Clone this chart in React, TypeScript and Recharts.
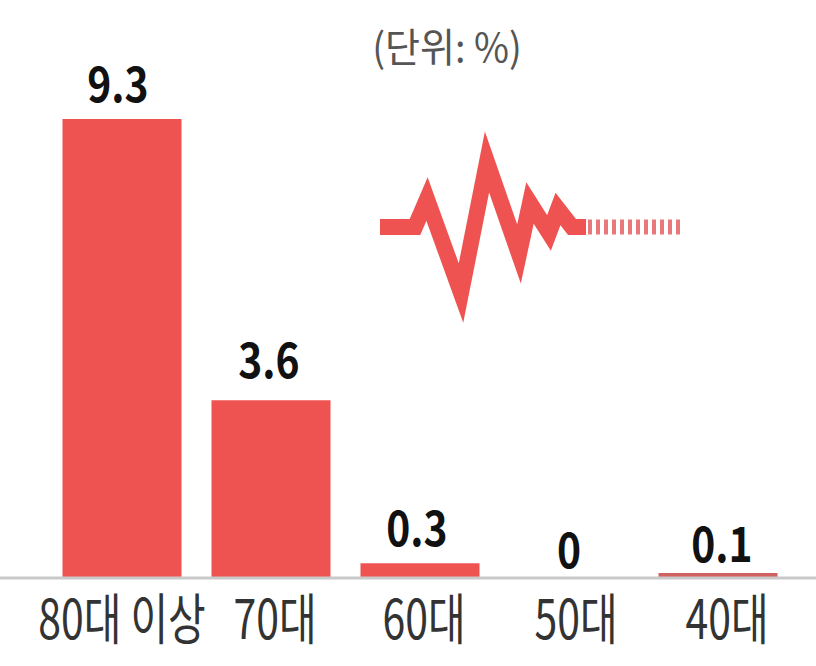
import { ComposedChart, Bar, Cell, Line, XAxis, YAxis, LabelList, LineChart } from "recharts";

const FONT = '"Noto Sans CJK KR", "Noto Sans", sans-serif';

const ageGroups = ["80대 이상", "70대", "60대", "50대", "40대"];
const rates = [9.3, 3.6, 0.3, 0, 0.1];
const rateLabels = ["9.3", "3.6", "0.3", "0", "0.1"];
const unitLabel = "(단위: %)";

// decorative seismograph trace
const waveX = [0, 35, 47, 81, 107, 139, 150, 169, 178, 192, 206];
const waveY = [0, 0, 28, -66, 65, -27, 24, -6, 18, 0, 0];
const tailX = [208, 300];
const tailY = [0, 0];

const chartData = ageGroups.map((group, i) => ({ group, rate: rates[i] }));
const waveData = [
  ...waveX.map((x, i) => ({ x, wave: waveY[i] })),
  ...tailX.map((x, i) => ({ x, tail: tailY[i] })),
];

const RED = "#ee5351";

// the printed labels do not sit exactly on the bar centres
const tickNudge = [0, 4, 4, 7, 9];
const labelNudge = [-4, -2, -3, 0, 4];
const labelGap = [17, 22, 17, 10, 11];

function AgeTick({ x, y, payload }: any) {
  return (
    <text
      transform={`translate(${x + tickNudge[payload.index]},${y + 53}) scale(0.89,1.18)`}
      textAnchor="middle"
      fontFamily={FONT}
      fontSize={46}
      fontWeight={400}
      fill="#333"
    >
      {payload.value}
    </text>
  );
}

function RateLabel({ x, y, index }: any) {
  return (
    <text
      transform={`translate(${x + labelNudge[index]},${y - labelGap[index]}) scale(0.85,1)`}
      textAnchor="middle"
      fontFamily={FONT}
      fontSize={48}
      fontWeight={700}
      fill="#111"
    >
      {rateLabels[index]}
    </text>
  );
}

export default function App() {
  return (
    <div style={{ position: "fixed", left: 0, top: 0, width: 816, height: 666, background: "#fff" }}>
      <ComposedChart
        width={816}
        height={666}
        data={chartData}
        margin={{ top: 84.5, right: 0, left: 0, bottom: 0 }}
      >
        <XAxis
          dataKey="group"
          height={88}
          padding={{ left: 47.5, right: 23.5 }}
          axisLine={{ stroke: "#c9c9c9", strokeWidth: 3 }}
          tickLine={false}
          tick={<AgeTick />}
          interval={0}
        />
        <YAxis hide domain={[0, 10]} />
        <Bar dataKey="rate" barSize={119} fill={RED} isAnimationActive={false}>
          {chartData.map((d) => (
            <Cell key={d.group} fill={d.rate === 0.1 ? "#d0625f" : RED} />
          ))}
        </Bar>
        {/* invisible line carries the labels: zero-height bars get dropped from a Bar's LabelList */}
        <Line dataKey="rate" stroke="none" dot={false} activeDot={false} isAnimationActive={false}>
          <LabelList dataKey="rate" content={<RateLabel />} />
        </Line>
      </ComposedChart>

      <div
        style={{
          position: "absolute",
          left: 297,
          top: 16,
          width: 300,
          textAlign: "center",
          fontFamily: FONT,
          fontSize: 40,
          fontWeight: 400,
          color: "#555",
          transform: "scaleX(0.95)",
        }}
      >
        {unitLabel}
      </div>

      <div style={{ position: "absolute", left: 380, top: 102 }}>
        <LineChart width={300} height={250} data={waveData} margin={{ top: 0, right: 0, left: 0, bottom: 0 }}>
          <XAxis hide type="number" dataKey="x" domain={[0, 300]} />
          <YAxis hide domain={[-125, 125]} />
          <Line
            dataKey="wave"
            type="linear"
            stroke={RED}
            strokeWidth={16}
            strokeLinejoin="miter"
            strokeMiterlimit={10}
            dot={false}
            connectNulls={false}
            isAnimationActive={false}
          />
          <Line
            dataKey="tail"
            type="linear"
            stroke="#e8787a"
            strokeWidth={15}
            strokeDasharray="4 4"
            dot={false}
            connectNulls={false}
            isAnimationActive={false}
          />
        </LineChart>
      </div>
    </div>
  );
}
